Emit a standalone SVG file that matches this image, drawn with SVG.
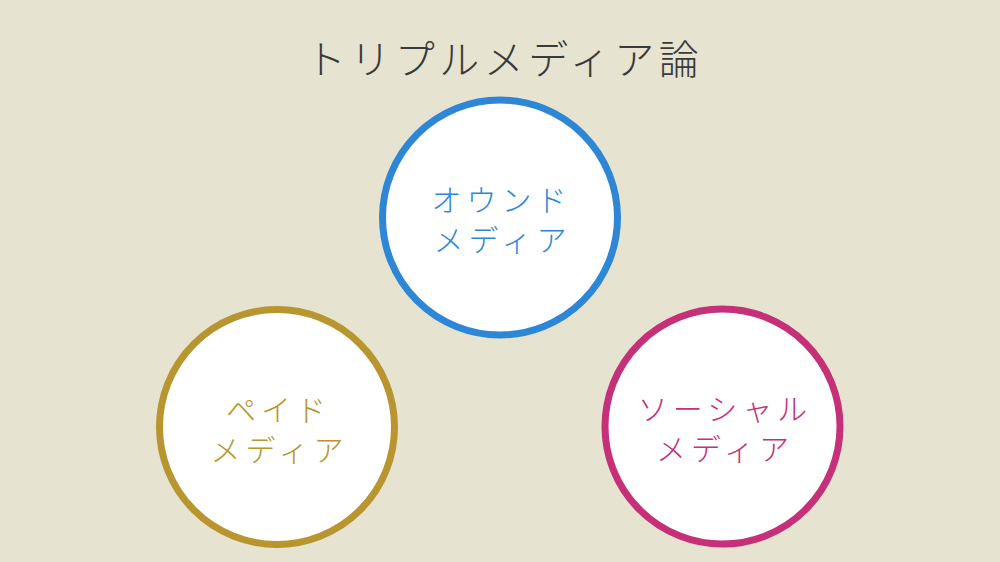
<svg xmlns="http://www.w3.org/2000/svg" width="1000" height="562" viewBox="0 0 1000 562">
<style>
.bg{fill:#E6E3D0}
.ring{fill:#FFFFFF;stroke-width:7}
.t{font-family:"Noto Sans CJK JP","Noto Sans",sans-serif;font-weight:300;text-anchor:middle}
.lbl{font-size:30px;letter-spacing:5px}
.title{font-size:40px;letter-spacing:4.5px;fill:#3A3A3A}
.blue{stroke:#2E87D6}
.blueT{fill:#2E87D6}
.gold{stroke:#B8952E}
.goldT{fill:#B8952E}
.mag{stroke:#C63079}
.magT{fill:#C63079}
</style>
<rect class="bg" x="0" y="0" width="1000" height="562"/>
<text class="t title" x="504.5" y="74">トリプルメディア論</text>
<g id="connectors"></g>
<g id="owned">
<circle class="ring blue" cx="500" cy="217.5" r="117.5"/>
<text class="t lbl blueT" x="501.5" y="211">オウンド</text>
<text class="t lbl blueT" x="502.5" y="251">メディア</text>
</g>
<g id="paid">
<circle class="ring gold" cx="277" cy="427" r="117.5"/>
<text class="t lbl goldT" x="278.5" y="421">ペイド</text>
<text class="t lbl goldT" x="279.5" y="461">メディア</text>
</g>
<g id="social">
<circle class="ring mag" cx="722.5" cy="426.5" r="117.5"/>
<text class="t lbl magT" x="725" y="420">ソーシャル</text>
<text class="t lbl magT" x="725" y="460">メディア</text>
</g>
</svg>
